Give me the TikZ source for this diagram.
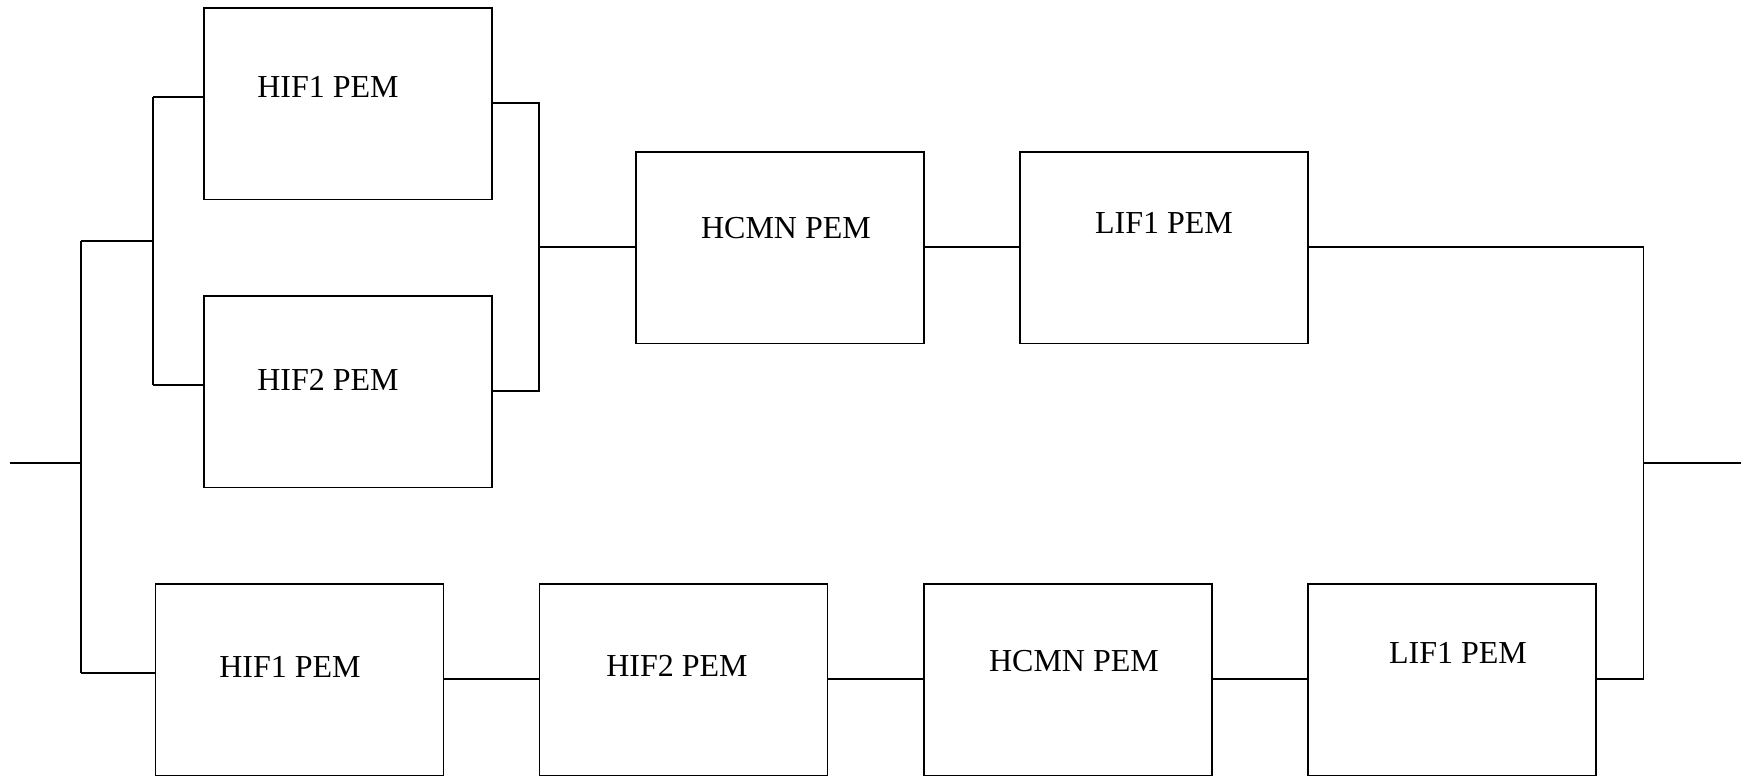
\documentclass[tikz,border=0pt]{standalone}
\usepackage{fontspec}
\setmainfont{Liberation Serif}
\begin{document}
\begin{tikzpicture}[x=1pt,y=-1pt,
  blk/.style={draw,line width=1.6pt,minimum width=288pt,minimum height=191.5pt,inner sep=0pt,anchor=north west},
  lbl/.style={font=\fontsize{32}{36}\selectfont,inner sep=0pt},
  wire/.style={line width=1.6pt}]
\useasboundingbox (0,0) rectangle (1741,776);
% boxes
\node[blk] (hifA) at (203,7) {};
\node[blk] (hifB) at (203,295) {};
\node[blk] (hcmnA) at (635,151) {};
\node[blk] (lifA) at (1019,151) {};
\node[blk] (hifC) at (154.5,583) {};
\node[blk] (hifD) at (538.5,583) {};
\node[blk] (hcmnB) at (923,583) {};
\node[blk] (lifB) at (1307,583) {};
% labels
\node[lbl] (thifA) at (328,87) {HIF1 PEM};
\node[lbl] (thifB) at (328,380) {HIF2 PEM};
\node[lbl] (thcmnA) at (786,228) {HCMN PEM};
\node[lbl] (tlifA) at (1164,223) {LIF1 PEM};
\node[lbl] (thifC) at (290,667) {HIF1 PEM};
\node[lbl] (thifD) at (677,666) {HIF2 PEM};
\node[lbl] (thcmnB) at (1074,661) {HCMN PEM};
\node[lbl] (tlifB) at (1458,653) {LIF1 PEM};
% coordinates
\coordinate (in) at (9.6,463);
\coordinate (inj) at (80.8,463);
\coordinate (ltop) at (80.8,240.7);
\coordinate (lbot) at (80.8,672.7);
\coordinate (btop) at (153,97);
\coordinate (bmid) at (153,240.7);
\coordinate (bbot) at (153,384.7);
\coordinate (rtop) at (538.8,103);
\coordinate (rmid) at (538.8,247);
\coordinate (rbot) at (538.8,390.7);
\coordinate (otop) at (1643.3,247);
\coordinate (omid) at (1643.3,463);
\coordinate (obot) at (1643.3,679);
\coordinate (out) at (1741,463);
% wiring
\draw[wire] (in) -- (inj);
\draw[wire] (ltop) -- (lbot);
\draw[wire] (ltop) -- (bmid);
\draw[wire] (btop) -- (bbot);
\draw[wire] (btop) -- (btop -| hifA.west);
\draw[wire] (bbot) -- (bbot -| hifB.west);
\draw[wire] (rtop -| hifA.east) -- (rtop) -- (rbot) -- (rbot -| hifB.east);
\draw[wire] (rmid) -- (rmid -| hcmnA.west);
\draw[wire] (rmid -| hcmnA.east) -- (rmid -| lifA.west);
\draw[wire] (otop -| lifA.east) -- (otop) -- (obot) -- (obot -| lifB.east);
\draw[wire] (omid) -- (out);
\draw[wire] (lbot) -- (lbot -| hifC.west);
\draw[wire] (obot -| hifC.east) -- (obot -| hifD.west);
\draw[wire] (obot -| hifD.east) -- (obot -| hcmnB.west);
\draw[wire] (obot -| hcmnB.east) -- (obot -| lifB.west);
\end{tikzpicture}
\end{document}
